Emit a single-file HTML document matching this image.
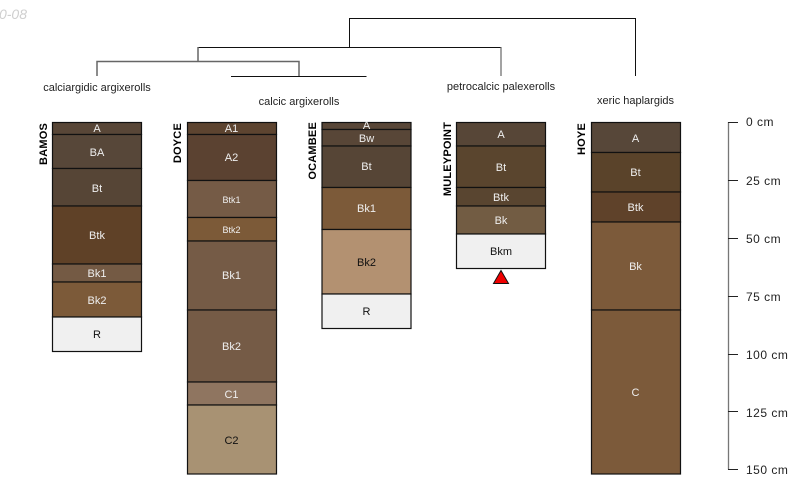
<!DOCTYPE html>
<html>
<head>
<meta charset="utf-8">
<style>
html,body{margin:0;padding:0;background:#fff;width:800px;height:500px;overflow:hidden}
svg{display:block;font-family:"Liberation Sans",sans-serif}
text{font-size:11px}
.w{fill:#efefef;text-anchor:middle}
.k{fill:#111;text-anchor:middle}
.s{font-size:9px}
.n{font-weight:bold;text-anchor:end;fill:#000;font-size:11px;letter-spacing:.2px}
.t{fill:#222;text-anchor:middle}
.c{fill:#222;font-size:12px;letter-spacing:.5px}
rect{stroke:#111;stroke-width:1.2}
</style>
</head>
<body>
<svg width="800" height="500" viewBox="0 0 800 500">
<text x="27" y="19" text-anchor="end" font-style="italic" style="font-size:14px" fill="#cfcfcf">2010-08</text>

<g fill="none" stroke="#111" stroke-width="1">
<path d="M349.5 47V18.5H635.5V76"/>
<path d="M198 47.5H501"/>
<path d="M501 47V76" stroke="#666" stroke-width="1.2"/>
<path d="M198 47V61.5" stroke="#666" stroke-width="1.5"/>
<path d="M97 76V61.5H299V76" stroke="#666" stroke-width="1.5"/>
<path d="M231 76.5H366.5"/>
</g>
<text class="t" x="97" y="91">calciargidic argixerolls</text>
<text class="t" x="299" y="105">calcic argixerolls</text>
<text class="t" x="501" y="90">petrocalcic palexerolls</text>
<text class="t" x="635.5" y="104">xeric haplargids</text>

<!-- BAMOS -->
<g>
<rect x="52.5" y="122.5" width="89" height="12" fill="#584637"/>
<rect x="52.5" y="134.5" width="89" height="34" fill="#574739"/>
<rect x="52.5" y="168.5" width="89" height="37.5" fill="#564536"/>
<rect x="52.5" y="206" width="89" height="58" fill="#5f4127"/>
<rect x="52.5" y="264" width="89" height="18" fill="#745a44"/>
<rect x="52.5" y="282" width="89" height="35" fill="#7c5a39"/>
<rect x="52.5" y="317" width="89" height="34.5" fill="#f0f0f0"/>
<text class="w" x="97" y="132">A</text>
<text class="w" x="97" y="156">BA</text>
<text class="w" x="97" y="192">Bt</text>
<text class="w" x="97" y="239">Btk</text>
<text class="w" x="97" y="277">Bk1</text>
<text class="w" x="97" y="304">Bk2</text>
<text class="k" x="97" y="338">R</text>
<text class="n" transform="translate(47,123) rotate(-90)">BAMOS</text>
</g>

<!-- DOYCE -->
<g>
<rect x="187.5" y="122.5" width="89" height="12" fill="#5d4430"/>
<rect x="187.5" y="134.5" width="89" height="46" fill="#5b4231"/>
<rect x="187.5" y="180.5" width="89" height="37" fill="#755b46"/>
<rect x="187.5" y="217.5" width="89" height="23.5" fill="#7c5a38"/>
<rect x="187.5" y="241" width="89" height="69" fill="#755b46"/>
<rect x="187.5" y="310" width="89" height="72" fill="#755b46"/>
<rect x="187.5" y="382" width="89" height="23" fill="#8f7560"/>
<rect x="187.5" y="405" width="89" height="69" fill="#a89273"/>
<text class="w" x="231.5" y="132">A1</text>
<text class="w" x="231.5" y="161">A2</text>
<text class="w s" x="231.5" y="203">Btk1</text>
<text class="w s" x="231.5" y="233">Btk2</text>
<text class="w" x="231.5" y="279">Bk1</text>
<text class="w" x="231.5" y="350">Bk2</text>
<text class="w" x="231.5" y="398">C1</text>
<text class="k" x="231.5" y="444">C2</text>
<text class="n" transform="translate(181,123) rotate(-90)">DOYCE</text>
</g>

<!-- OCAMBEE -->
<g>
<rect x="322" y="122.5" width="89" height="7" fill="#584637"/>
<rect x="322" y="129.5" width="89" height="16.5" fill="#584637"/>
<rect x="322" y="146" width="89" height="41.5" fill="#564536"/>
<rect x="322" y="187.5" width="89" height="42" fill="#7c5a39"/>
<rect x="322" y="229.5" width="89" height="64.5" fill="#b39171"/>
<rect x="322" y="294" width="89" height="34.5" fill="#f0f0f0"/>
<text class="w" x="366.5" y="129">A</text>
<text class="w" x="366.5" y="142">Bw</text>
<text class="w" x="366.5" y="170">Bt</text>
<text class="w" x="366.5" y="212">Bk1</text>
<text class="k" x="366.5" y="266">Bk2</text>
<text class="k" x="366.5" y="315">R</text>
<text class="n" transform="translate(316,122) rotate(-90)">OCAMBEE</text>
</g>

<!-- MULEYPOINT -->
<g>
<rect x="456.5" y="122.5" width="89" height="23.5" fill="#574637"/>
<rect x="456.5" y="146" width="89" height="41.5" fill="#5a452e"/>
<rect x="456.5" y="187.5" width="89" height="18.5" fill="#594530"/>
<rect x="456.5" y="206" width="89" height="28" fill="#725c43"/>
<rect x="456.5" y="234" width="89" height="34.5" fill="#f0f0f0"/>
<text class="w" x="501" y="138">A</text>
<text class="w" x="501" y="171">Bt</text>
<text class="w" x="501" y="201">Btk</text>
<text class="w" x="501" y="224">Bk</text>
<text class="k" x="501" y="255">Bkm</text>
<text class="n" transform="translate(451,122) rotate(-90)">MULEYPOINT</text>
<polygon points="501,270.5 493.5,283.5 508.5,283.5" fill="#f00000" stroke="#111" stroke-width="1"/>
</g>

<!-- HOYE -->
<g>
<rect x="591.5" y="122.5" width="89" height="30" fill="#574739"/>
<rect x="591.5" y="152.5" width="89" height="39.5" fill="#5a432a"/>
<rect x="591.5" y="192" width="89" height="30" fill="#5f422a"/>
<rect x="591.5" y="222" width="89" height="88" fill="#7c5a3a"/>
<rect x="591.5" y="310" width="89" height="164" fill="#7c5a3a"/>
<text class="w" x="635.5" y="142">A</text>
<text class="w" x="635.5" y="176">Bt</text>
<text class="w" x="635.5" y="211">Btk</text>
<text class="w" x="635.5" y="270">Bk</text>
<text class="w" x="635.5" y="396">C</text>
<text class="n" transform="translate(585,123) rotate(-90)">HOYE</text>
</g>

<!-- scale -->
<path d="M728.5 122V469.5" stroke="#777" stroke-width="1.3" fill="none"/>
<g stroke="#222" stroke-width="1" fill="none">
<path d="M728 122.5H738M728 180.5H738M728 238.5H738M728 296.5H738M728 354.5H738M728 411.5H738M728 469.5H738"/>
</g>
<text class="c" x="746" y="126">0 cm</text>
<text class="c" x="746" y="185">25 cm</text>
<text class="c" x="746" y="243">50 cm</text>
<text class="c" x="746" y="301">75 cm</text>
<text class="c" x="746" y="359">100 cm</text>
<text class="c" x="746" y="417">125 cm</text>
<text class="c" x="746" y="474">150 cm</text>
</svg>
</body>
</html>
